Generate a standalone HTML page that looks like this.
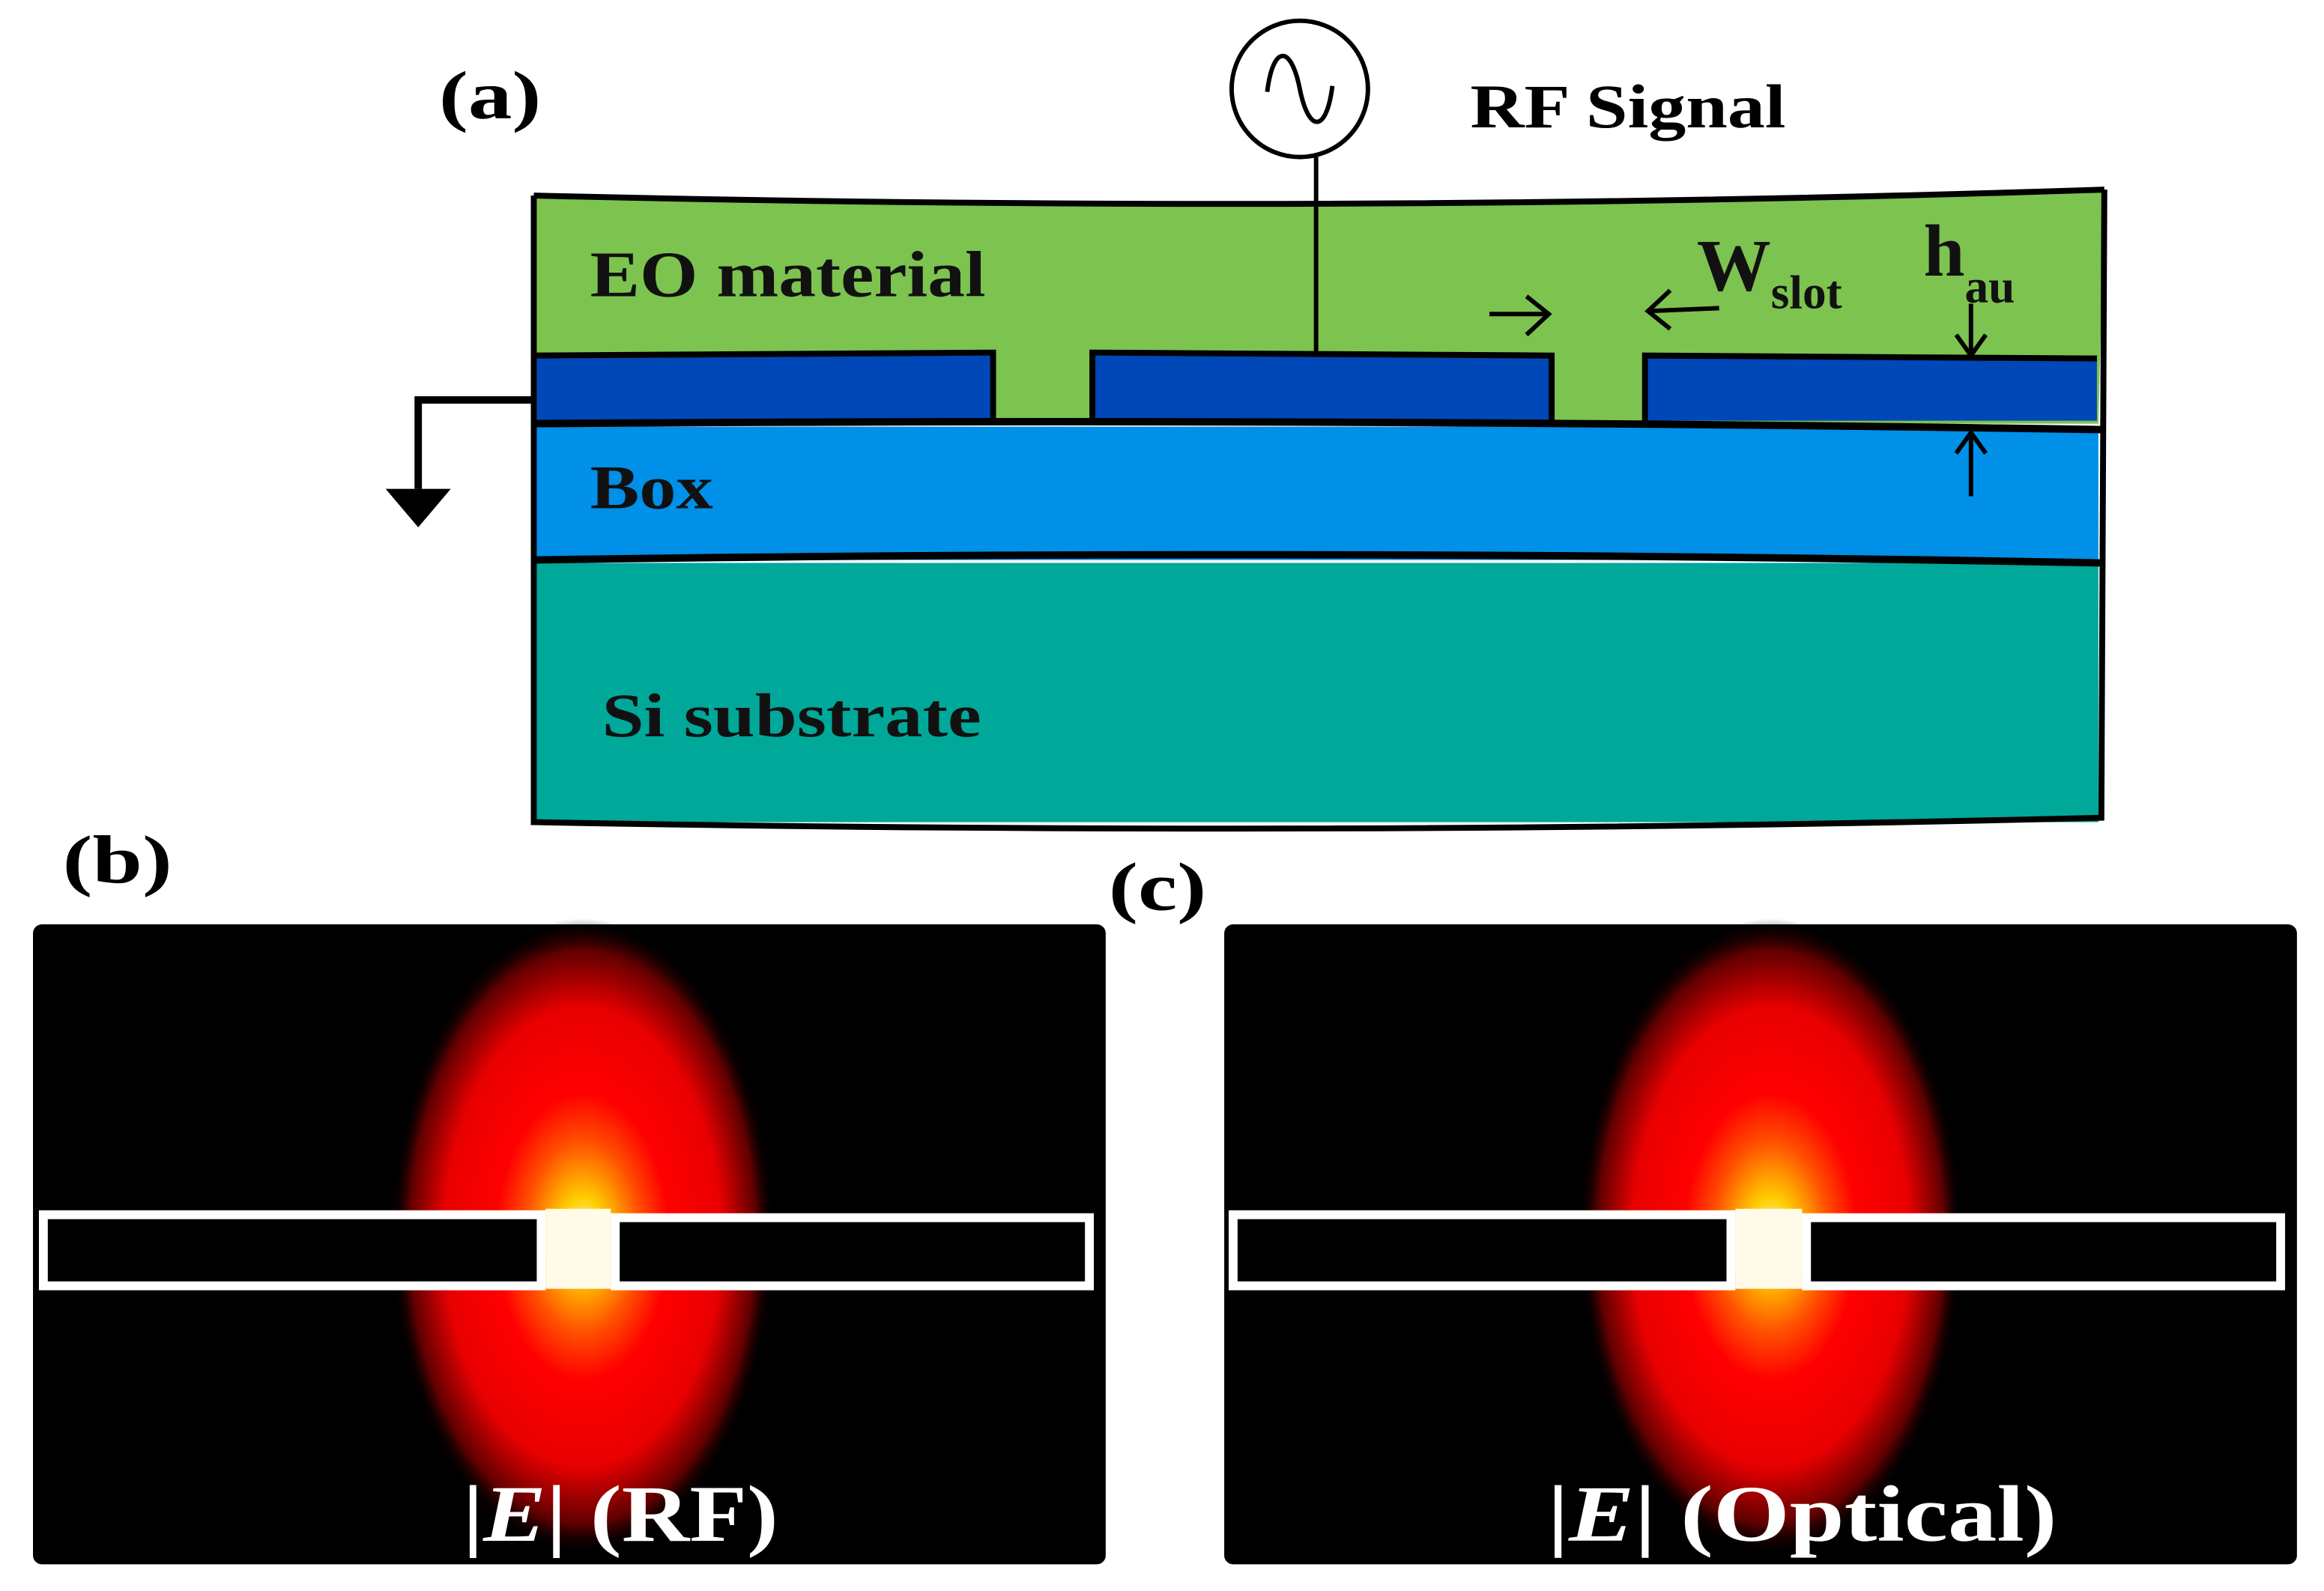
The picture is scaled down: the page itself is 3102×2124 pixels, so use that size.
<!DOCTYPE html>
<html><head><meta charset="utf-8"><style>html,body{margin:0;padding:0;background:#fff}svg{display:block}</style></head>
<body>
<svg width="3102" height="2124" viewBox="0 0 1568 1074" xmlns="http://www.w3.org/2000/svg" font-family="Liberation Serif, serif" font-weight="bold">
<defs>
<radialGradient id="g1" cx="0.5" cy="0.5" r="0.5">
<stop offset="0" stop-color="#ffffff"/>
<stop offset="0.12" stop-color="#ffd000"/>
<stop offset="0.3" stop-color="#ff5000"/>
<stop offset="0.45" stop-color="#ff0000"/>
<stop offset="0.72" stop-color="#e80000"/>
<stop offset="0.9" stop-color="#600000"/>
<stop offset="1" stop-color="#000000" stop-opacity="0"/>
</radialGradient>
</defs>
<path d="M360 132 Q900 145 1420 128 L1416 286 L360 286 Z" fill="#7dc34f"/>
<rect x="360" y="288" width="1056" height="90" fill="#0090e8"/>
<rect x="360" y="380" width="1056" height="175" fill="#00a89a"/>
<rect x="362" y="240" width="308" height="44" fill="#0047b8"/>
<rect x="737" y="240" width="310" height="44" fill="#0047b8"/>
<rect x="1112" y="240" width="303" height="44" fill="#0047b8"/>
<g stroke="#000" fill="none" stroke-width="4">
<path d="M360 132 Q900 145 1420 128"/>
<path d="M360 132 L360 555 Q900 565 1418 552 L1420 128"/>
<path d="M362 240 L670 238 L670 284 M737 284 L737 238 L1047 240 L1047 284 M1110 284 L1110 240 L1415 242"/>
<path d="M360 286 Q900 282 1418 290" stroke-width="5"/>
<path d="M360 378 Q900 370 1418 380" stroke-width="5"/>
<circle cx="877" cy="60" r="46" stroke-width="3"/>
<path d="M855 62 C859 30 871 30 877 60 C883 90 895 90 899 58" stroke-width="3"/>
<line x1="888" y1="106" x2="888" y2="240" stroke-width="3"/>
<path d="M358 270 L282 270 L282 330" stroke-width="5"/>
<path d="M1005 212 L1045 212 M1030 200 L1045 212 L1030 226" stroke-width="3"/>
<path d="M1160 208 L1112 210 M1127 196 L1112 210 L1127 222" stroke-width="3"/>
<path d="M1330 205 L1330 240 M1320 226 L1330 240 L1340 226" stroke-width="3"/>
<path d="M1330 335 L1330 292 M1320 306 L1330 292 L1340 306" stroke-width="3"/>
</g>
<polygon points="260,330 304,330 282,356" fill="#000"/>
<text x="296" y="80" font-size="46" textLength="69" lengthAdjust="spacingAndGlyphs">(a)</text>
<text x="992" y="86" font-size="42" textLength="213" lengthAdjust="spacingAndGlyphs">RF Signal</text>
<text x="398" y="200" font-size="44" fill="#111" textLength="267" lengthAdjust="spacingAndGlyphs">EO material</text>
<text x="398" y="343" font-size="42" fill="#111" textLength="83" lengthAdjust="spacingAndGlyphs">Box</text>
<text x="406" y="497" font-size="42" fill="#111" textLength="256" lengthAdjust="spacingAndGlyphs">Si substrate</text>
<text x="1145" y="196" font-size="50" fill="#111">W<tspan font-size="32" dy="12">slot</tspan></text>
<text x="1298" y="186" font-size="50" fill="#111">h<tspan font-size="32" dy="18">au</tspan></text>
<text x="42" y="596" font-size="46" textLength="74" lengthAdjust="spacingAndGlyphs">(b)</text>
<text x="748" y="614" font-size="46" textLength="66" lengthAdjust="spacingAndGlyphs">(c)</text>
<rect x="22" y="624" width="724" height="432" rx="6" fill="#000"/>
<ellipse cx="393" cy="835" rx="130" ry="215" fill="url(#g1)"/>
<rect x="29" y="820" width="336" height="48" fill="#000" stroke="#fff" stroke-width="6"/>
<rect x="415" y="822" width="320" height="46" fill="#000" stroke="#fff" stroke-width="6"/>
<rect x="368" y="816" width="44" height="54" fill="#fffbe8"/>
<text x="312" y="1040" font-size="54" fill="#fff" textLength="213" lengthAdjust="spacingAndGlyphs">|<tspan font-style="italic">E</tspan>| (RF)</text>
<rect x="826" y="624" width="724" height="432" rx="6" fill="#000"/>
<ellipse cx="1195" cy="835" rx="130" ry="215" fill="url(#g1)"/>
<rect x="832" y="820" width="336" height="48" fill="#000" stroke="#fff" stroke-width="6"/>
<rect x="1219" y="822" width="320" height="46" fill="#000" stroke="#fff" stroke-width="6"/>
<rect x="1171" y="816" width="45" height="54" fill="#fffbe8"/>
<text x="1044" y="1040" font-size="54" fill="#fff" textLength="344" lengthAdjust="spacingAndGlyphs">|<tspan font-style="italic">E</tspan>| (Optical)</text>
</svg>
</body></html>
